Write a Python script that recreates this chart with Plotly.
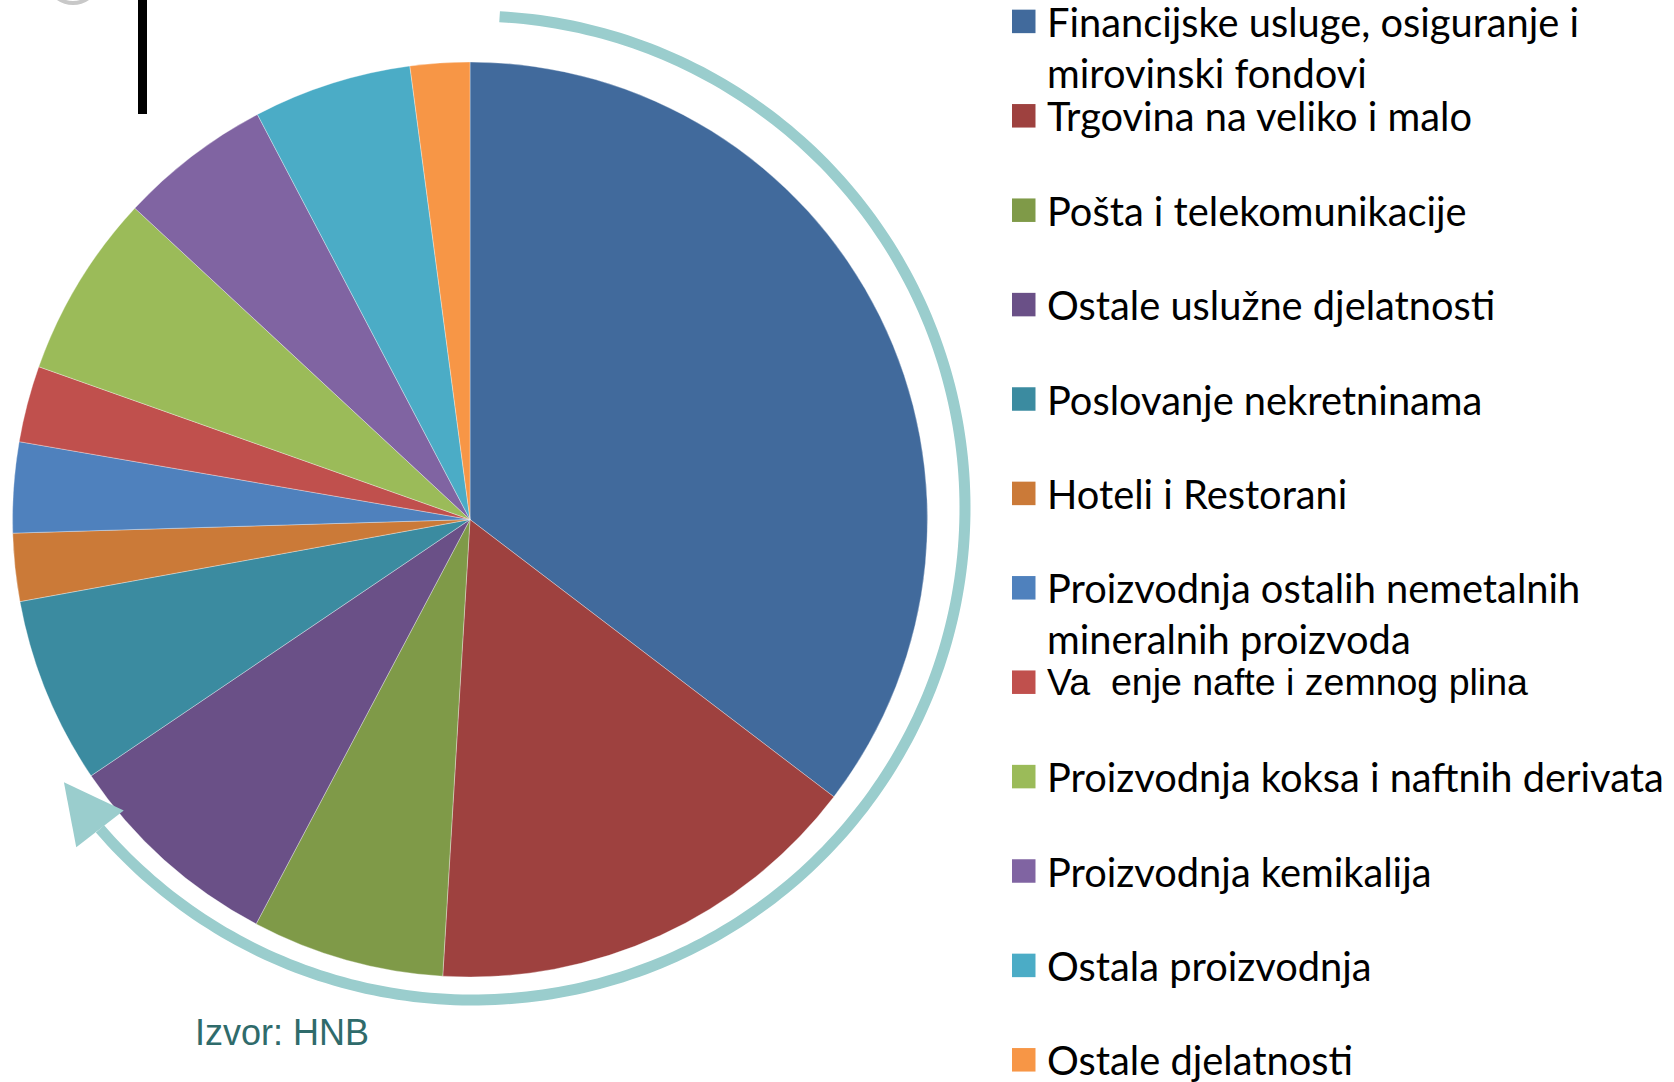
import math
import plotly.graph_objects as go

# ---------------- data ----------------
categories = [
    "Financijske usluge, osiguranje i mirovinski fondovi",
    "Trgovina na veliko i malo",
    "Pošta i telekomunikacije",
    "Ostale uslužne djelatnosti",
    "Poslovanje nekretninama",
    "Hoteli i Restorani",
    "Proizvodnja ostalih nemetalnih mineralnih proizvoda",
    "Va\u00a0\u00a0enje nafte i zemnog plina",
    "Proizvodnja koksa i naftnih derivata",
    "Proizvodnja kemikalija",
    "Ostala proizvodnja",
    "Ostale djelatnosti",
]
shares = [35.4, 15.6, 6.8, 7.8, 6.6, 2.4, 3.2, 2.7, 6.5, 5.4, 5.6, 2.1]
legend_lines = [
    ["Financijske usluge, osiguranje i", "mirovinski fondovi"],
    ["Trgovina na veliko i malo"],
    ["Pošta i telekomunikacije"],
    ["Ostale uslužne djelatnosti"],
    ["Poslovanje nekretninama"],
    ["Hoteli i Restorani"],
    ["Proizvodnja ostalih nemetalnih", "mineralnih proizvoda"],
    ["Va\u00a0\u00a0enje nafte i zemnog plina"],
    ["Proizvodnja koksa i naftnih derivata"],
    ["Proizvodnja kemikalija"],
    ["Ostala proizvodnja"],
    ["Ostale djelatnosti"],
]
source_text = "Izvor: HNB"

# ---------------- style ----------------
colors = ["#416A9C", "#9E413F", "#7F9A48", "#6A5087", "#3B8BA0", "#CB7A38",
          "#4F81BD", "#C0504D", "#9BBB59", "#8064A2", "#4BACC6", "#F79646"]
legend_fonts = ["Lato"] * 7 + ["Liberation Sans"] + ["Lato"] * 4
legend_sizes = [39.8] * 7 + [37.5] + [39.8] * 4

W, H = 1674, 1082


def px(x):
    return x / W


def py(y):
    return 1 - y / H


# pie geometry (pixels)
cx, cy, r = 470, 519.5, 457.5

fig = go.Figure()
fig.add_trace(go.Pie(
    labels=categories,
    values=shares,
    sort=False,
    direction="clockwise",
    rotation=0,
    marker=dict(colors=colors, line=dict(color="rgba(255,255,255,0.55)", width=0.6)),
    textinfo="none",
    hoverinfo="label+percent",
    showlegend=False,
    domain=dict(x=[px(cx - r), px(cx + r)], y=[py(cy + r), py(cy - r)]),
))

shapes = []
annotations = []

# legend (manual, to reproduce the original spacing)
leg_x0, leg_sq = 1012, 23.5
leg_top, leg_step, line_gap = 21.4, 94.4, 51
for i, lines in enumerate(legend_lines):
    yc = leg_top + i * leg_step
    shapes.append(dict(type="rect", xref="paper", yref="paper",
                       x0=px(leg_x0), x1=px(leg_x0 + leg_sq),
                       y0=py(yc + leg_sq / 2), y1=py(yc - leg_sq / 2),
                       fillcolor=colors[i], line=dict(width=0)))
    for j, t in enumerate(lines):
        annotations.append(dict(
            text=t, x=px(1045), y=py(yc + j * line_gap),
            xref="paper", yref="paper", xanchor="left", yanchor="middle",
            showarrow=False,
            font=dict(family=legend_fonts[i], size=legend_sizes[i], color="#000000"),
        ))

# source note
annotations.append(dict(
    text=source_text, x=px(193), y=py(1032), xref="paper", yref="paper",
    xanchor="left", yanchor="middle", showarrow=False,
    font=dict(family="Liberation Sans", size=36, color="#2F6B6B"),
))

# circular arrow around the pie
acx, acy, ar = 473, 508, 492
a_start, a_end = 3.1, 229.3
pts = []
n = 240
for k in range(n + 1):
    th = math.radians(a_start + (a_end - a_start) * k / n)
    pts.append((acx + ar * math.sin(th), acy - ar * math.cos(th)))
path = "M " + " L ".join(f"{px(x):.5f},{py(y):.5f}" for x, y in pts)
arc_color = "#9ACDCD"
shapes.append(dict(type="path", xref="paper", yref="paper", path=path,
                   line=dict(color=arc_color, width=11)))

# arrow head
th = math.radians(a_end + 3)
bx, by = pts[-1]
dx, dy = math.cos(th), math.sin(th)          # tangent (clockwise travel)
nx_, ny_ = -dy, dx
head_len, half_w = 59, 30
tip = (bx + dx * head_len, by + dy * head_len)
c1 = (bx + nx_ * half_w, by + ny_ * half_w)
c2 = (bx - nx_ * half_w, by - ny_ * half_w)
tri = "M {:.5f},{:.5f} L {:.5f},{:.5f} L {:.5f},{:.5f} Z".format(
    px(tip[0]), py(tip[1]), px(c1[0]), py(c1[1]), px(c2[0]), py(c2[1]))
shapes.append(dict(type="path", xref="paper", yref="paper", path=tri,
                   fillcolor=arc_color, line=dict(width=0)))

# decorative elements at top-left
shapes.append(dict(type="rect", xref="paper", yref="paper",
                   x0=px(138), x1=px(147), y0=py(114), y1=py(0),
                   fillcolor="#000000", line=dict(width=0)))
shapes.append(dict(type="circle", xref="paper", yref="paper",
                   x0=px(47), x1=px(99), y0=py(3), y1=py(-49),
                   fillcolor="rgba(0,0,0,0)", line=dict(color="#C8C8C8", width=4)))

fig.update_layout(
    width=W, height=H,
    margin=dict(l=0, r=0, t=0, b=0),
    paper_bgcolor="#FFFFFF",
    plot_bgcolor="#FFFFFF",
    shapes=shapes,
    annotations=annotations,
    showlegend=False,
)

fig.write_html("out.html", config={"displayModeBar": False},
               post_script="document.body.style.margin='0';")
